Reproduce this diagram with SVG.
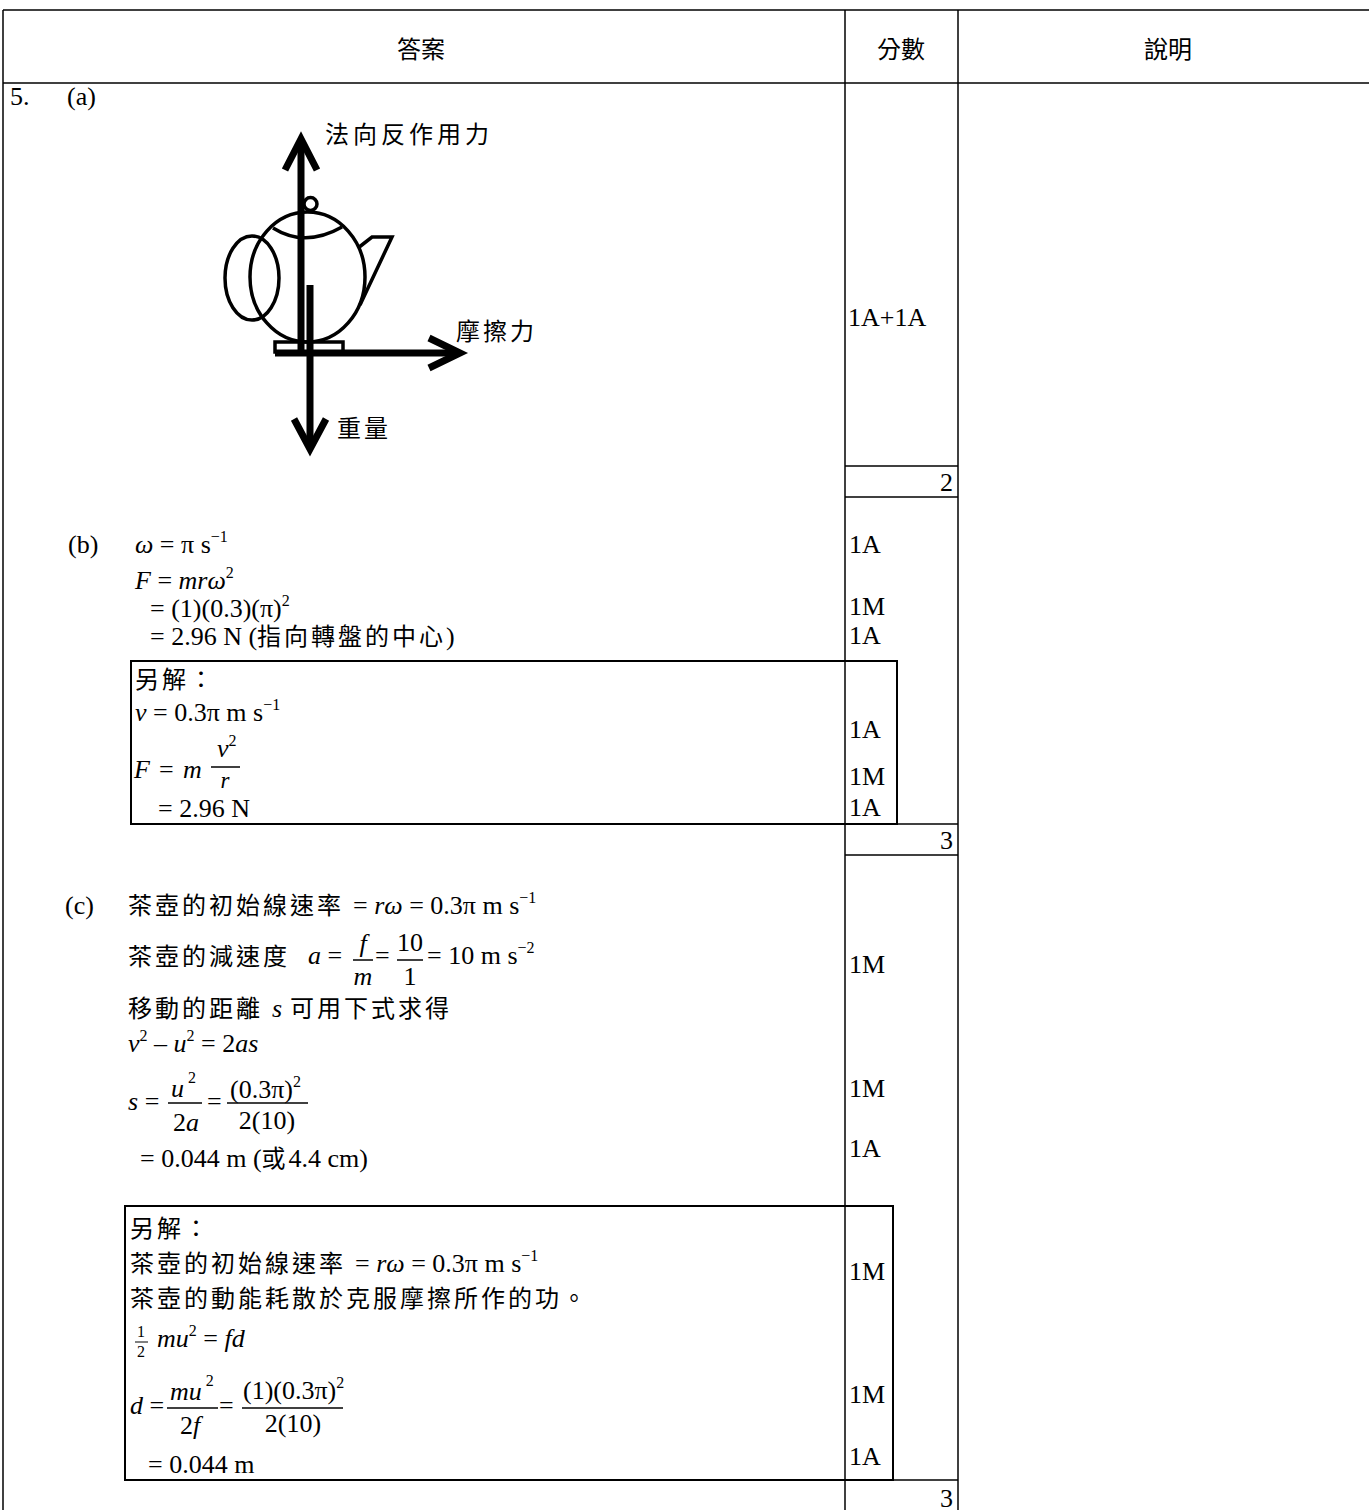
<svg xmlns="http://www.w3.org/2000/svg" width="1369" height="1510" viewBox="0 0 1369 1510">
<style>
.ln{stroke:#000;stroke-width:1.5;fill:none}
.bx{stroke:#000;stroke-width:2;fill:none}
.t{font-family:"Liberation Serif","Noto Sans CJK TC",serif;font-size:26px;fill:#000}
.c{font-family:"Noto Sans CJK TC","Liberation Sans",sans-serif;font-size:24px;letter-spacing:3px}
.h{font-family:"Noto Sans CJK TC","Liberation Sans",sans-serif;font-size:24px;fill:#000}
.i{font-style:italic}
.s{font-size:16px}
.fr{stroke:#000;stroke-width:1.5}
.fig{stroke:#000;stroke-width:3.5;fill:none}
.arw{stroke:#000;stroke-width:7;fill:none;stroke-linejoin:miter}
</style>
<rect width="1369" height="1510" fill="#fff"/>

<g id="table">
  <line class="ln" x1="3" y1="10" x2="1369" y2="10"/>
  <line class="ln" x1="3" y1="83" x2="1369" y2="83"/>
  <line class="ln" x1="3" y1="10" x2="3" y2="1510"/>
  <line class="ln" x1="845" y1="10" x2="845" y2="1510"/>
  <line class="ln" x1="958" y1="10" x2="958" y2="1510"/>
  <line class="ln" x1="845" y1="466" x2="958" y2="466"/>
  <line class="ln" x1="845" y1="497" x2="958" y2="497"/>
  <line class="ln" x1="845" y1="824" x2="958" y2="824"/>
  <line class="ln" x1="845" y1="855" x2="958" y2="855"/>
  <line class="ln" x1="845" y1="1480" x2="958" y2="1480"/>
</g>

<g id="header">
  <text class="h" x="421" y="58" text-anchor="middle">答案</text>
  <text class="h" x="901" y="58" text-anchor="middle">分數</text>
  <text class="h" x="1168" y="58" text-anchor="middle">說明</text>
</g>

<g id="part-a">
  <text class="t" x="10" y="105">5.</text>
  <text class="t" x="67" y="105">(a)</text>
  <g id="teapot">
    <ellipse class="fig" cx="252" cy="278" rx="27" ry="42"/>
    <ellipse class="fig" cx="307.5" cy="277" rx="57.5" ry="65" fill="#fff"/>
    <circle class="fig" cx="310.5" cy="204" r="6.5" fill="#fff"/>
    <path class="fig" d="M 273 228 Q 305 248 342 227"/>
    <polyline class="fig" points="358,248 372,237 392,237 360,305"/>
    <rect class="fig" x="275" y="342" width="68" height="10" fill="#fff"/>
  </g>
  <g id="connectors">
    <line class="arw" x1="301" y1="141" x2="301" y2="352"/>
    <polyline class="arw" points="285,170 301,139 317,170"/>
    <line class="arw" x1="310" y1="285" x2="310" y2="446"/>
    <polyline class="arw" points="294,419 310,449 326,419"/>
    <line class="arw" x1="275" y1="353" x2="458" y2="353"/>
    <polyline class="arw" points="429,338 460,353 429,368"/>
  </g>
  <text class="t c" x="325" y="143" style="letter-spacing:4px">法向反作用力</text>
  <text class="t c" x="456" y="340">摩擦力</text>
  <text class="t c" x="337" y="437">重量</text>
</g>

<g id="part-b">
  <text class="t" x="68" y="553">(b)</text>
  <text class="t" x="135" y="553"><tspan class="i">ω</tspan> = π s<tspan class="s" dy="-11">−1</tspan></text>
  <text class="t" x="135" y="589"><tspan class="i">F</tspan> = <tspan class="i">mrω</tspan><tspan class="s" dy="-11">2</tspan></text>
  <text class="t" x="150" y="617">= (1)(0.3)(π)<tspan class="s" dy="-11">2</tspan></text>
  <text class="t" x="150" y="645">= 2.96 N (<tspan class="c">指向轉盤的中心</tspan>)</text>
  <g id="alt-b">
    <rect class="bx" x="131" y="661" width="766" height="163"/>
    <text class="t c" x="135" y="688">另解：</text>
    <text class="t" x="135" y="721"><tspan class="i">v</tspan> = 0.3π m s<tspan class="s" dy="-11">−1</tspan></text>
    <text class="t i" x="217" y="757">v<tspan class="s" dy="-11" style="font-style:normal">2</tspan></text>
    <line class="fr" x1="211" y1="767" x2="240" y2="767"/>
    <text class="t i" x="134" y="778">F</text>
    <text class="t" x="159" y="778">=</text>
    <text class="t i" x="183" y="778">m</text>
    <text class="t i" x="225" y="788" text-anchor="middle" style="font-size:23px">r</text>
    <text class="t" x="158" y="817">= 2.96 N</text>
  </g>
</g>

<g id="part-c">
  <text class="t" x="65" y="914">(c)</text>
  <text class="t" x="128" y="914"><tspan class="c">茶壺的初始線速率</tspan><tspan x="353">= </tspan><tspan class="i">rω</tspan> = 0.3π m s<tspan class="s" dy="-11">−1</tspan></text>
  <text class="t" x="128" y="965"><tspan class="c">茶壺的減速度</tspan></text>
  <text class="t" x="308" y="964"><tspan class="i">a</tspan> =</text>
  <text class="t i" x="363" y="952" text-anchor="middle">f</text>
  <line class="fr" x1="353" y1="960" x2="373" y2="960"/>
  <text class="t i" x="363" y="985" text-anchor="middle">m</text>
  <text class="t" x="375" y="964">=</text>
  <text class="t" x="410" y="951" text-anchor="middle">10</text>
  <line class="fr" x1="397" y1="960" x2="423" y2="960"/>
  <text class="t" x="410" y="985" text-anchor="middle">1</text>
  <text class="t" x="427" y="964">= 10 m s<tspan class="s" dy="-11">−2</tspan></text>
  <text class="t c" x="128" y="1017">移動的距離</text>
  <text class="t i" x="272" y="1017">s</text>
  <text class="t c" x="290" y="1017">可用下式求得</text>
  <text class="t" x="128" y="1052"><tspan class="i">v</tspan><tspan class="s" dy="-11">2</tspan><tspan dy="11"> – </tspan><tspan class="i">u</tspan><tspan class="s" dy="-11">2</tspan><tspan dy="11"> = 2</tspan><tspan class="i">as</tspan></text>
  <text class="t" x="128" y="1110"><tspan class="i">s</tspan> =</text>
  <text class="t i" x="171" y="1097">u<tspan class="s" dy="-14" style="font-style:normal"> 2</tspan></text>
  <line class="fr" x1="168" y1="1103" x2="202" y2="1103"/>
  <text class="t" x="186" y="1131" text-anchor="middle">2<tspan class="i">a</tspan></text>
  <text class="t" x="207" y="1110">=</text>
  <text class="t" x="230" y="1098">(0.3π)<tspan class="s" dy="-11">2</tspan></text>
  <line class="fr" x1="227" y1="1103" x2="308" y2="1103"/>
  <text class="t" x="267" y="1129" text-anchor="middle">2(10)</text>
  <text class="t" x="140" y="1167">= 0.044 m (<tspan class="c">或</tspan>4.4 cm)</text>
  <g id="alt-c">
    <rect class="bx" x="125" y="1206" width="768" height="274"/>
    <text class="t c" x="130" y="1237">另解：</text>
    <text class="t" x="130" y="1272"><tspan class="c">茶壺的初始線速率</tspan><tspan x="355">= </tspan><tspan class="i">rω</tspan> = 0.3π m s<tspan class="s" dy="-11">−1</tspan></text>
    <text class="t c" x="130" y="1307">茶壺的動能耗散於克服摩擦所作的功。</text>
    <text class="t s" x="141" y="1337" text-anchor="middle">1</text>
    <line class="fr" x1="135" y1="1342" x2="148" y2="1342" style="stroke-width:1"/>
    <text class="t s" x="141" y="1357" text-anchor="middle">2</text>
    <text class="t" x="157" y="1347"><tspan class="i">mu</tspan><tspan class="s" dy="-11">2</tspan><tspan dy="11"> = </tspan><tspan class="i">fd</tspan></text>
    <text class="t" x="130" y="1414"><tspan class="i">d</tspan> =</text>
    <text class="t i" x="170" y="1400">mu<tspan class="s" dy="-14" style="font-style:normal"> 2</tspan></text>
    <line class="fr" x1="167" y1="1408" x2="218" y2="1408"/>
    <text class="t" x="190" y="1434" text-anchor="middle">2<tspan class="i">f</tspan></text>
    <text class="t" x="219" y="1414">=</text>
    <text class="t" x="243" y="1399">(1)(0.3π)<tspan class="s" dy="-11">2</tspan></text>
    <line class="fr" x1="242" y1="1408" x2="343" y2="1408"/>
    <text class="t" x="293" y="1432" text-anchor="middle">2(10)</text>
    <text class="t" x="148" y="1473">= 0.044 m</text>
  </g>
</g>

<g id="marks">
  <text class="t" x="848" y="326">1A+1A</text>
  <text class="t" x="953" y="491" text-anchor="end">2</text>
  <text class="t" x="849" y="553">1A</text>
  <text class="t" x="849" y="615">1M</text>
  <text class="t" x="849" y="644">1A</text>
  <text class="t" x="849" y="738">1A</text>
  <text class="t" x="849" y="785">1M</text>
  <text class="t" x="849" y="816">1A</text>
  <text class="t" x="953" y="849" text-anchor="end">3</text>
  <text class="t" x="849" y="973">1M</text>
  <text class="t" x="849" y="1097">1M</text>
  <text class="t" x="849" y="1157">1A</text>
  <text class="t" x="849" y="1280">1M</text>
  <text class="t" x="849" y="1403">1M</text>
  <text class="t" x="849" y="1465">1A</text>
  <text class="t" x="953" y="1507" text-anchor="end">3</text>
</g>
</svg>
